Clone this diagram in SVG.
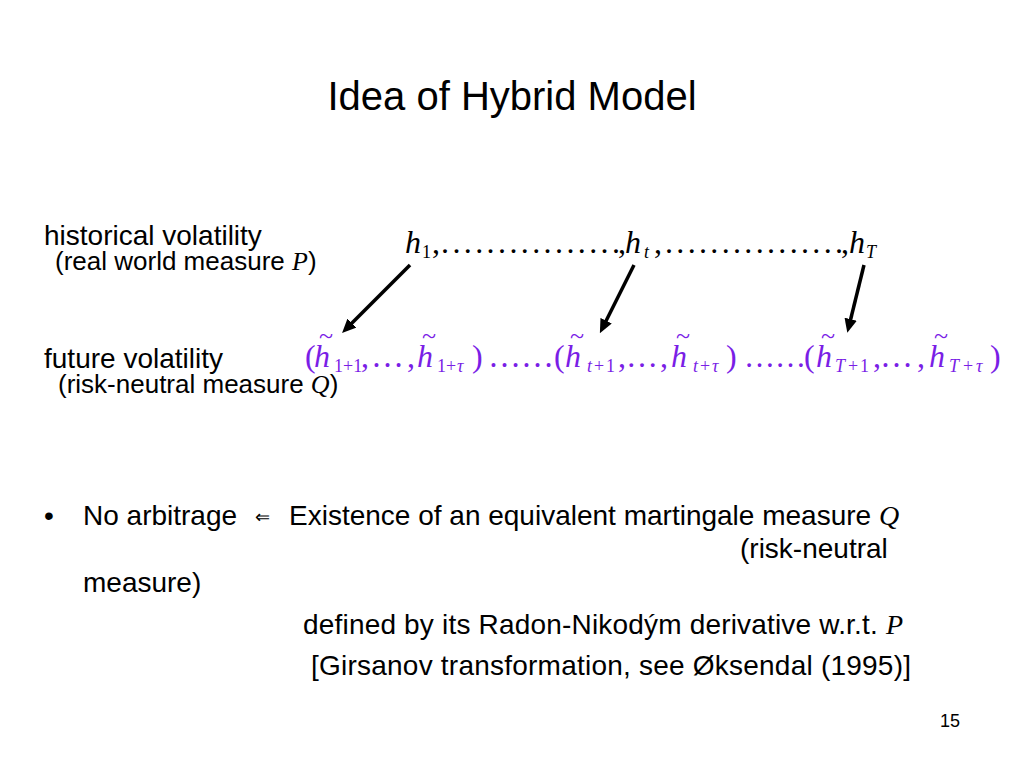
<svg xmlns="http://www.w3.org/2000/svg" width="1024" height="768" viewBox="0 0 1024 768">
<style>
.s{font-family:"Liberation Sans",Arial,sans-serif;fill:#000}
.m{font-family:"Liberation Serif","Times New Roman",serif;font-style:italic}
.r{font-family:"Liberation Serif","Times New Roman",serif}
.k{fill:#000}
.p{fill:#7A1EE6}
.sub{font-size:18px}
.tl{font-size:26px;text-anchor:middle}
.arr{stroke:#000;stroke-width:3.5;fill:none;marker-end:url(#ah)}
</style>
<defs>
<marker id="ah" markerWidth="4" markerHeight="3.6" refX="2" refY="1.8" orient="auto" markerUnits="strokeWidth">
<path d="M0,0 L4,1.8 L0,3.6 Z" fill="#000"/>
</marker>
</defs>
<rect width="1024" height="768" fill="#fff"/>
<g id="title"><text class="s" x="512" y="110" font-size="40" text-anchor="middle">Idea of Hybrid Model</text></g>
<g id="historical">
<text class="s" x="44" y="245" font-size="28">historical volatility</text>
<text class="s" x="55" y="270" font-size="26">(real world measure <tspan class="m">P</tspan>)</text>
</g>
<g id="hrow" class="k" font-size="32">
<text class="m" x="405" y="253">h</text>
<text class="r sub" x="422" y="258">1</text>
<text class="r" x="432" y="253">,</text>
<text class="r" x="441" y="253" textLength="179" lengthAdjust="spacing">................</text>
<text class="r" x="618" y="253">,</text>
<text class="m" x="625" y="253">h</text>
<text class="m sub" x="644" y="258">t</text>
<text class="r" x="654" y="253">,</text>
<text class="r" x="665" y="253" textLength="178" lengthAdjust="spacing">................</text>
<text class="r" x="841" y="253">,</text>
<text class="m" x="849" y="253">h</text>
<text class="m sub" x="866" y="258">T</text>
</g>
<g id="future">
<text class="s" x="44" y="368" font-size="28">future volatility</text>
<text class="s" x="58" y="393" font-size="26">(risk-neutral measure <tspan class="m">Q</tspan>)</text>
</g>
<g id="hfuture" class="p" font-size="32">
<text class="r" x="305" y="367">(</text>
<text class="m" x="314" y="367">h</text><text class="r tl" x="326" y="344">~</text>
<text class="r sub" x="334" y="372">1+1</text>
<text class="r" x="361" y="367">,</text><text class="r" x="371" y="367" font-size="33">…</text><text class="r" x="407" y="367">,</text>
<text class="m" x="417" y="367">h</text><text class="r tl" x="429" y="344">~</text>
<text class="r sub" x="437" y="372">1+</text><text class="m sub" x="457" y="372">τ</text>
<text class="r" x="472" y="367">)</text>
<text class="r" x="488" y="367" font-size="33">……</text>
<text class="r" x="554" y="367">(</text>
<text class="m" x="565" y="367">h</text><text class="r tl" x="577" y="344">~</text>
<text class="m sub" x="587" y="372">t</text><text class="r sub" x="594" y="372">+</text><text class="r sub" x="606" y="372">1</text>
<text class="r" x="618" y="367">,</text><text class="r" x="626" y="367" font-size="32">…</text><text class="r" x="660" y="367">,</text>
<text class="m" x="671" y="367">h</text><text class="r tl" x="683" y="344">~</text>
<text class="m sub" x="693" y="372">t</text><text class="r sub" x="700" y="372">+</text><text class="m sub" x="712" y="372">τ</text>
<text class="r" x="726" y="367">)</text>
<text class="r" x="744" y="367" font-size="31">……</text>
<text class="r" x="804" y="367">(</text>
<text class="m" x="816" y="367">h</text><text class="r tl" x="828" y="344">~</text>
<text class="m sub" x="835" y="372">T</text><text class="r sub" x="848" y="372">+</text><text class="r sub" x="860" y="372">1</text>
<text class="r" x="873" y="367">,</text><text class="r" x="880" y="367" font-size="33">…</text><text class="r" x="917" y="367">,</text>
<text class="m" x="929" y="367">h</text><text class="r tl" x="941" y="344">~</text>
<text class="m sub" x="949" y="372">T</text><text class="r sub" x="963" y="372">+</text><text class="m sub" x="976" y="372">τ</text>
<text class="r" x="990" y="367">)</text>
</g>
<g id="connectors">
<line class="arr" x1="410" y1="265" x2="347" y2="328"/>
<line class="arr" x1="634" y1="265" x2="603" y2="327"/>
<line class="arr" x1="864" y1="265" x2="849" y2="326"/>
</g>
<g id="bullet">
<text class="s" x="44" y="525" font-size="28">•</text>
<text class="s" x="83" y="525" font-size="28">No arbitrage</text>
<text class="r k" x="255" y="523" font-size="18">⇐</text>
<text class="s" x="289" y="525" font-size="28">Existence of an equivalent martingale measure <tspan class="m">Q</tspan></text>
<text class="s" x="740" y="558" font-size="28">(risk-neutral</text>
<text class="s" x="83" y="592" font-size="28">measure)</text>
<text class="s" x="303" y="634" font-size="28" textLength="600">defined by its Radon-Nikodým derivative w.r.t. <tspan class="m">P</tspan></text>
<text class="s" x="311" y="675" font-size="28" textLength="600">[Girsanov transformation, see Øksendal (1995)]</text>
</g>
<g id="page"><text class="s" x="950" y="727" font-size="18" text-anchor="middle">15</text></g>
</svg>
